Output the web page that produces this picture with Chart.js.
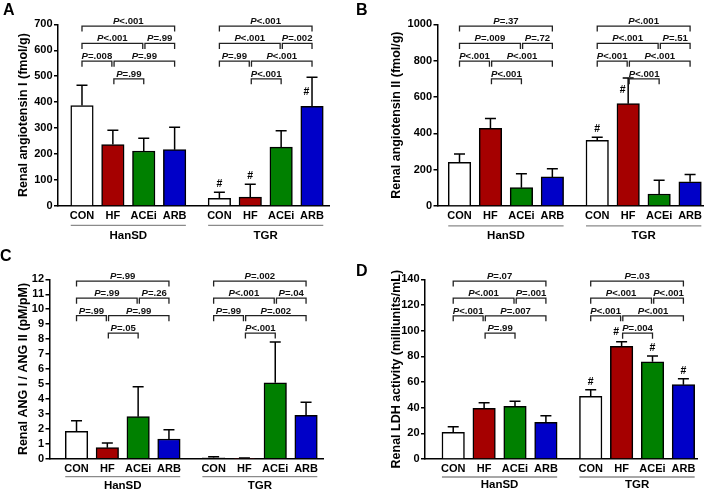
<!DOCTYPE html>
<html><head><meta charset="utf-8">
<script src="https://cdn.jsdelivr.net/npm/chart.js@4/dist/chart.umd.min.js"></script>
<style>
html,body{margin:0;padding:0;background:#fff;}
#wrap{position:relative;width:708px;height:494px;overflow:hidden;background:#fff;}
.pn{position:absolute;width:354px;height:247px;}
canvas{display:block;}
</style></head><body><div id="wrap">
<div class="pn" style="left:0;top:0"><canvas id="cA" width="354" height="247"></canvas></div>
<div class="pn" style="left:354px;top:0"><canvas id="cB" width="354" height="247"></canvas></div>
<div class="pn" style="left:0;top:247px"><canvas id="cC" width="354" height="247"></canvas></div>
<div class="pn" style="left:354px;top:247px"><canvas id="cD" width="354" height="247"></canvas></div>
</div>
<script>
// ---------- data ----------
const categories = ["CON","HF","ACEi","ARB","CON","HF","ACEi","ARB"];
const groups = ["HanSD","TGR"];

const angI_mean = [387,237,212,217, 30,34,227,384];
const angI_sd   = [78,55,49,86, 23,50,63,112];
const angI_hash = [0,0,0,0, 1,1,0,1];
const angI_pHan = ["P=.99","P=.008","P=.99","P<.001","P=.99","P<.001"];
const angI_pTgr = ["P<.001","P=.99","P<.001","P<.001","P=.002","P<.001"];

const angII_mean = [240,428,101,160, 361,563,66,133];
const angII_sd   = [46,53,76,45, 17,142,76,40];
const angII_hash = [0,0,0,0, 1,1,0,0];
const angII_pHan = ["P<.001","P<.001","P<.001","P=.009","P=.72","P=.37"];
const angII_pTgr = ["P<.001","P<.001","P<.001","P<.001","P=.51","P<.001"];

const ratio_mean = [1.83,0.74,2.81,1.32, 0.06,0.03,5.08,2.90];
const ratio_sd   = [0.71,0.31,2.01,0.62, 0.07,0.02,2.73,0.87];
const ratio_hash = [0,0,0,0, 0,0,0,0];
const ratio_pHan = ["P=.05","P=.99","P=.99","P=.99","P=.26","P=.99"];
const ratio_pTgr = ["P<.001","P=.99","P=.002","P<.001","P=.04","P=.002"];

const ldh_mean = [20.8,39.5,41.0,28.6, 48.8,87.8,75.8,57.9];
const ldh_sd   = [4.4,4.4,4.0,5.1, 5.2,3.6,4.4,4.7];
const ldh_hash = [0,0,0,0, 1,1,1,1];
const ldh_pHan = ["P=.99","P<.001","P=.007","P<.001","P=.001","P=.07"];
const ldh_pTgr = ["P=.004","P<.001","P<.001","P<.001","P<.001","P=.03"];

// comparison pairs (from index, to index, bracket level) in the order of the p arrays
const PAIRS = [[1,2,0],[0,1,1],[1,3,1],[0,2,2],[2,3,2],[0,3,3]];

// ---------- style / layout ----------
Chart.defaults.font.family = '"Liberation Sans", Arial, sans-serif';
Chart.defaults.color = '#000';
const FF = '"Liberation Sans", Arial, sans-serif';
const GROUP_GAP = 0.45;
const xPos = i => i + (i >= 4 ? GROUP_GAP : 0);
const FILL = ['#ffffff','#a50000','#008000','#0000c8'];
const BAR_W = 22.5;
const LEVELS = [0.70, 0.797, 0.895, 0.99];

function drawP(ctx, s, cx, by) {
  const f1 = 'italic bold 9.6px ' + FF, f2 = 'bold 9.6px ' + FF;
  const head = s[0], rest = s.slice(1);
  ctx.font = f1; const w1 = ctx.measureText(head).width;
  ctx.font = f2; const w2 = ctx.measureText(rest).width;
  const x0 = cx - (w1 + w2) / 2;
  ctx.textAlign = 'left'; ctx.textBaseline = 'alphabetic';
  ctx.font = f1; ctx.fillText(head, x0, by);
  ctx.font = f2; ctx.fillText(rest, x0 + w1, by);
}

function makeAnnot(cfg) {
  return {
    id: 'annot_' + cfg.id,
    afterDatasetsDraw(chart) {
      const {ctx, scales: {x, y}, chartArea} = chart;
      ctx.save();
      // error bars (upper only)
      ctx.strokeStyle = '#000'; ctx.lineWidth = 1.5;
      cfg.mean.forEach((m, i) => {
        const px = x.getPixelForValue(xPos(i));
        const y0 = y.getPixelForValue(m), y1 = y.getPixelForValue(m + cfg.sd[i]);
        ctx.beginPath();
        ctx.moveTo(px, y0); ctx.lineTo(px, y1);
        ctx.moveTo(px - 5.5, y1); ctx.lineTo(px + 5.5, y1);
        ctx.stroke();
      });
      // significance brackets
      ctx.strokeStyle = '#222'; ctx.lineWidth = 1.3; ctx.fillStyle = '#111';
      [cfg.pHan, cfg.pTgr].forEach((plist, g) => {
        PAIRS.forEach(([a, b, l], k) => {
          let xa = x.getPixelForValue(xPos(g * 4 + a));
          let xb = x.getPixelForValue(xPos(g * 4 + b));
          if (l === 1 || l === 2) { if (a === 0) xb -= 1; else xa += 1.2; }
          if (l === 0) xa += 1;
          const yl = y.getPixelForValue(LEVELS[l] * cfg.yMax);
          ctx.beginPath();
          ctx.moveTo(xa, yl + 5.5); ctx.lineTo(xa, yl); ctx.lineTo(xb, yl); ctx.lineTo(xb, yl + 5.5);
          ctx.stroke();
          drawP(ctx, plist[k], (xa + xb) / 2, yl - 2);
        });
      });
      // hash marks
      const l1 = y.getPixelForValue(LEVELS[0] * cfg.yMax);
      ctx.fillStyle = '#000'; ctx.font = 'bold 10.5px ' + FF;
      ctx.textAlign = 'center'; ctx.textBaseline = 'middle';
      cfg.hash.forEach((h, i) => {
        if (!h) return;
        const px = x.getPixelForValue(xPos(i));
        const top = y.getPixelForValue(cfg.mean[i] + cfg.sd[i]);
        const my = y.getPixelForValue(cfg.mean[i]);
        let hx = px, hy = top - 8;
        if (top - 8 < l1 + 8) { hx = px - 5.5; hy = my - 14; }
        ctx.fillText('#', hx, hy);
      });
      // group lines and labels
      groups.forEach((gname, g) => {
        const x0 = x.getPixelForValue(xPos(g * 4)) - BAR_W / 2;
        const x1 = x.getPixelForValue(xPos(g * 4 + 3)) + BAR_W / 2;
        const yl = chartArea.bottom + cfg.groupLine;
        ctx.strokeStyle = '#8a8a8a'; ctx.lineWidth = 1.3;
        ctx.beginPath(); ctx.moveTo(x0, yl); ctx.lineTo(x1, yl); ctx.stroke();
        ctx.fillStyle = '#000'; ctx.font = 'bold 11.5px ' + FF;
        ctx.textAlign = 'center'; ctx.textBaseline = 'middle';
        ctx.fillText(gname, (x0 + x1) / 2, chartArea.bottom + cfg.groupText);
      });
      // panel letter
      ctx.fillStyle = '#000'; ctx.font = 'bold 16px ' + FF;
      ctx.textAlign = 'left'; ctx.textBaseline = 'alphabetic';
      ctx.fillText(cfg.letter, cfg.letterX, cfg.letterY);
      ctx.restore();
    }
  };
}

function makeChart(cfg) {
  const pts = cfg.mean.map((v, i) => ({x: xPos(i), y: v}));
  return new Chart(document.getElementById(cfg.id), {
    type: 'bar',
    data: {datasets: [{
      data: pts,
      backgroundColor: cfg.mean.map((v, i) => FILL[i % 4]),
      borderColor: '#000', borderWidth: 1.5, borderSkipped: 'start',
      barThickness: BAR_W
    }]},
    options: {
      responsive: false, animation: false, events: [],
      layout: {padding: {top: cfg.top, right: 354 - cfg.axisRight, left: 0, bottom: 0}},
      plugins: {legend: {display: false}, tooltip: {enabled: false}},
      scales: {
        x: {
          type: 'linear', offset: false, min: cfg.xMin, max: cfg.xMax,
          afterBuildTicks: s => { s.ticks = categories.map((c, i) => ({value: xPos(i)})); },
          afterFit: s => { s.height = 247 - cfg.bottom; },
          ticks: {autoSkip: false, maxRotation: 0, minRotation: 0, padding: 3.5,
                  font: {size: 11, weight: 'bold'}, color: '#000',
                  callback: (v, i) => categories[i]},
          grid: {display: false, drawTicks: false, tickLength: 0, offset: false},
          border: {display: true, color: '#000', width: 1.5}
        },
        y: {
          min: 0, max: cfg.yMax,
          afterFit: s => { s.width = cfg.axisLeft; },
          ticks: {stepSize: cfg.step, autoSkip: false, padding: 1.5,
                  font: {size: 11, weight: 'bold'}, color: '#000',
                  callback: v => String(v)},
          grid: {drawOnChartArea: false, drawTicks: true, tickLength: 4, color: '#000', lineWidth: 1.5},
          border: {display: true, color: '#000', width: 1.5},
          title: {display: true, text: cfg.title, color: '#000',
                  font: {size: 12.5, weight: 'bold'}, padding: {top: cfg.titleCenter - 7.5, bottom: 0}}
        }
      }
    },
    plugins: [makeAnnot(cfg)]
  });
}

makeChart({id: 'cA', letter: 'A', letterX: 3, letterY: 15,
  mean: angI_mean, sd: angI_sd, hash: angI_hash, pHan: angI_pHan, pTgr: angI_pTgr,
  yMax: 700, step: 100, title: 'Renal angiotensin I (fmol/g)',
  axisLeft: 58, axisRight: 329, top: 24.3, bottom: 206, xMin: -0.777, xMax: 8.0,
  titleCenter: 24, groupLine: 19.3, groupText: 30});

makeChart({id: 'cB', letter: 'B', letterX: 2, letterY: 14.5,
  mean: angII_mean, sd: angII_sd, hash: angII_hash, pHan: angII_pHan, pTgr: angII_pTgr,
  yMax: 1000, step: 200, title: 'Renal angiotensin II (fmol/g)',
  axisLeft: 83.5, axisRight: 349.7, top: 24.3, bottom: 206, xMin: -0.711, xMax: 7.89,
  titleCenter: 42.5, groupLine: 19.8, groupText: 29.5});

makeChart({id: 'cC', letter: 'C', letterX: 0, letterY: 14,
  mean: ratio_mean, sd: ratio_sd, hash: ratio_hash, pHan: ratio_pHan, pTgr: ratio_pTgr,
  yMax: 12, step: 1, title: 'Renal ANG I / ANG II (pM/pM)',
  axisLeft: 49.5, axisRight: 323, top: 32.3, bottom: 211.7, xMin: -0.877, xMax: 8.0,
  titleCenter: 24, groupLine: 18, groupText: 27});

makeChart({id: 'cD', letter: 'D', letterX: 2, letterY: 29,
  mean: ldh_mean, sd: ldh_sd, hash: ldh_hash, pHan: ldh_pHan, pTgr: ldh_pTgr,
  yMax: 140, step: 20, title: 'Renal LDH activity (milliunits/mL)',
  axisLeft: 71, axisRight: 343, top: 32.3, bottom: 212, xMin: -0.913, xMax: 7.89,
  titleCenter: 42.5, groupLine: 18, groupText: 25.5});
</script>
</body></html>
